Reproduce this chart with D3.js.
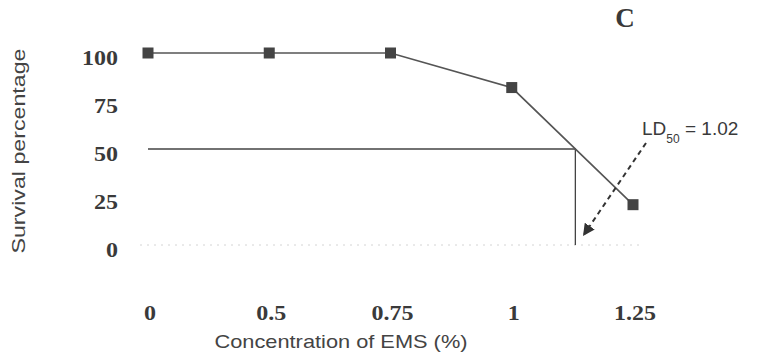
<!DOCTYPE html>
<html><head><meta charset="utf-8">
<script src="https://cdn.jsdelivr.net/npm/d3@7"></script>
<style>body{margin:0;background:#fff}svg{display:block}</style>
</head><body><svg id="c" width="757" height="361"></svg>
<script>
const categories = ["0", "0.5", "0.75", "1", "1.25"];
const survival = [100, 100, 100, 82, 21];
const yTicks = [0, 25, 50, 75, 100];
const ld50Label = "1.02";
const threshold = 50;

const svg = d3.select("#c");
const x = d3.scalePoint().domain(categories).range([148, 633]);
const y = d3.scaleLinear().domain([0, 100]).range([245, 53]);
const serif = "Liberation Serif, Times New Roman, serif";
const sans = "Liberation Sans, Arial, sans-serif";

// zero line (faint)
svg.append("line").attr("x1", 140).attr("x2", 640).attr("y1", y(0)).attr("y2", y(0))
  .attr("stroke", "#d4d4d4").attr("stroke-width", 1).attr("stroke-dasharray", "2,5");

// y tick labels
svg.append("g").selectAll("text").data(yTicks).join("text")
  .attr("transform", d => `translate(118,${y(d) + 12}) scale(1.2,1)`).attr("text-anchor", "end")
  .attr("font-family", serif).attr("font-weight", "bold")
  .attr("font-size", 20).attr("fill", "#3a3a3a").text(d => d);

// x tick labels
svg.append("g").selectAll("text").data(categories).join("text")
  .attr("transform", d => `translate(${x(d) + 2},320) scale(1.2,1)`).attr("text-anchor", "middle")
  .attr("font-family", serif).attr("font-weight", "bold")
  .attr("font-size", 20).attr("fill", "#3a3a3a").text(d => d);

// LD50 crossing computed from data
let cx = null;
for (let i = 0; i < survival.length - 1; i++) {
  const a = survival[i], b = survival[i + 1];
  if (a >= threshold && b < threshold) {
    const t = (a - threshold) / (a - b);
    cx = x(categories[i]) + t * (x(categories[i + 1]) - x(categories[i]));
  }
}
svg.append("path")
  .attr("d", `M${x(categories[0])},${y(threshold)}H${cx}V${y(0)}`)
  .attr("fill", "none").attr("stroke", "#444").attr("stroke-width", 1.3);

// data line
const line = d3.line().x((d, i) => x(categories[i])).y(d => y(d));
svg.append("path").datum(survival).attr("d", line)
  .attr("fill", "none").attr("stroke", "#555").attr("stroke-width", 1.6);

// markers
svg.append("g").selectAll("rect").data(survival).join("rect")
  .attr("x", (d, i) => x(categories[i]) - 5.5).attr("y", d => y(d) - 5.5)
  .attr("width", 11).attr("height", 11).attr("fill", "#444");

// dashed arrow
svg.append("defs").append("marker").attr("id", "ah").attr("viewBox", "0 0 10 10")
  .attr("refX", 8).attr("refY", 5).attr("markerWidth", 6).attr("markerHeight", 6)
  .attr("orient", "auto").append("path").attr("d", "M0,0L10,5L0,10z").attr("fill", "#333");
svg.append("line").attr("x1", 646).attr("y1", 143).attr("x2", cx + 9).attr("y2", y(0) - 11)
  .attr("stroke", "#333").attr("stroke-width", 2).attr("stroke-dasharray", "5,4")
  .attr("marker-end", "url(#ah)");

// LD50 label
const t = svg.append("text").attr("x", 642).attr("y", 135)
  .attr("font-family", sans).attr("font-size", 19).attr("fill", "#3a3a3a");
t.append("tspan").text("LD");
t.append("tspan").attr("font-size", 12).attr("dy", 8).text("50");
t.append("tspan").attr("dy", -8).text(" = " + ld50Label);

// panel letter
svg.append("text").attr("x", 625).attr("y", 27).attr("text-anchor", "middle")
  .attr("font-family", serif).attr("font-weight", "bold")
  .attr("font-size", 27).attr("fill", "#3a3a3a").text("C");

// axis titles
svg.append("text").attr("transform", "translate(25,151) rotate(-90)").attr("text-anchor", "middle")
  .attr("font-family", sans).attr("font-size", 18).attr("fill", "#444")
  .attr("textLength", 205).attr("lengthAdjust", "spacingAndGlyphs")
  .text("Survival percentage");
svg.append("text").attr("x", 341).attr("y", 348).attr("text-anchor", "middle")
  .attr("font-family", sans).attr("font-size", 19).attr("fill", "#444")
  .attr("textLength", 253).attr("lengthAdjust", "spacingAndGlyphs")
  .text("Concentration of EMS (%)");
</script></body></html>
